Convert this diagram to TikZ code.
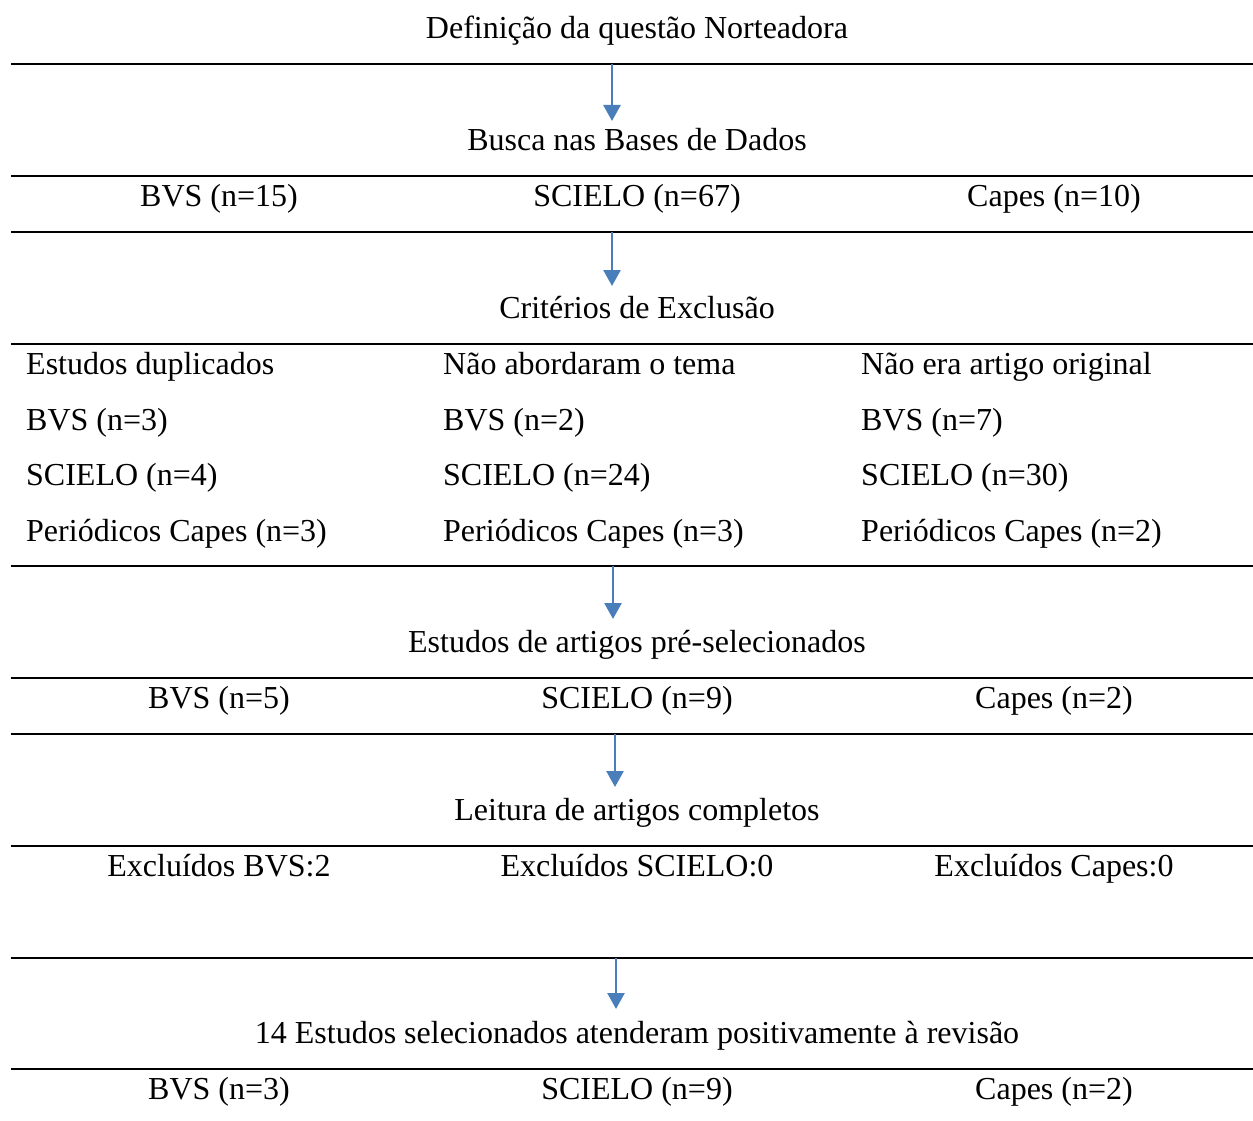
\documentclass[tikz,border=0pt]{standalone}
\usepackage{fontspec}
\setmainfont{Liberation Serif}
\usetikzlibrary{arrows.meta}
\definecolor{arrowblue}{HTML}{4A7EBB}
\begin{document}
\begin{tikzpicture}[x=1pt,y=-1pt,
  txt/.style={anchor=base, inner sep=0pt, font=\fontsize{32}{38}\selectfont},
  ltxt/.style={txt, anchor=base west},
  rule/.style={line width=2pt, black},
  flow/.style={draw=arrowblue, line width=2.6pt, -{Triangle[width=17pt,length=16pt]}}]
\useasboundingbox (0,0) rectangle (1253,1121);
\fill[white] (0,0) rectangle (1253,1121);

% horizontal rules
\foreach \y in {64,176,232,344,566,678,734,846,958,1069}
  \draw[rule] (11,\y) -- (1253,\y);

% texts
\node[txt] (title) at (637,39) {Definição da questão Norteadora};
\node[txt] (busca) at (637,150) {Busca nas Bases de Dados};
\node[txt] (b1) at (219,206) {BVS (n=15)};
\node[txt] (b2) at (637,206) {SCIELO (n=67)};
\node[txt] (b3) at (1054,206) {Capes (n=10)};
\node[txt] (crit) at (637,318) {Critérios de Exclusão};

\node[ltxt] (c11) at (26,374) {Estudos duplicados};
\node[ltxt] (c12) at (26,430) {BVS (n=3)};
\node[ltxt] (c13) at (26,485) {SCIELO (n=4)};
\node[ltxt] (c14) at (26,541) {Periódicos Capes (n=3)};
\node[ltxt] (c21) at (443,374) {Não abordaram o tema};
\node[ltxt] (c22) at (443,430) {BVS (n=2)};
\node[ltxt] (c23) at (443,485) {SCIELO (n=24)};
\node[ltxt] (c24) at (443,541) {Periódicos Capes (n=3)};
\node[ltxt] (c31) at (861,374) {Não era artigo original};
\node[ltxt] (c32) at (861,430) {BVS (n=7)};
\node[ltxt] (c33) at (861,485) {SCIELO (n=30)};
\node[ltxt] (c34) at (861,541) {Periódicos Capes (n=2)};

\node[txt] (pre) at (637,652) {Estudos de artigos pré-selecionados};
\node[txt] (p1) at (219,708) {BVS (n=5)};
\node[txt] (p2) at (637,708) {SCIELO (n=9)};
\node[txt] (p3) at (1054,708) {Capes (n=2)};
\node[txt] (leit) at (637,820) {Leitura de artigos completos};
\node[txt] (e1) at (219,876) {Excluídos BVS:2};
\node[txt] (e2) at (637,876) {Excluídos SCIELO:0};
\node[txt] (e3) at (1054,876) {Excluídos Capes:0};
\node[txt] (sel) at (637,1043) {14 Estudos selecionados atenderam positivamente à revisão};
\node[txt] (s1) at (219,1099) {BVS (n=3)};
\node[txt] (s2) at (637,1099) {SCIELO (n=9)};
\node[txt] (s3) at (1054,1099) {Capes (n=2)};

% connector ends
\coordinate (a1s) at (612,64);  \coordinate (a1e) at (612,121);
\coordinate (a2s) at (612,232); \coordinate (a2e) at (612,286);
\coordinate (a3s) at (613,566); \coordinate (a3e) at (613,619);
\coordinate (a4s) at (615,734); \coordinate (a4e) at (615,787);
\coordinate (a5s) at (616,958); \coordinate (a5e) at (616,1009);

\draw[flow] (a1s) -- (a1e);
\draw[flow] (a2s) -- (a2e);
\draw[flow] (a3s) -- (a3e);
\draw[flow] (a4s) -- (a4e);
\draw[flow] (a5s) -- (a5e);
\end{tikzpicture}
\end{document}
